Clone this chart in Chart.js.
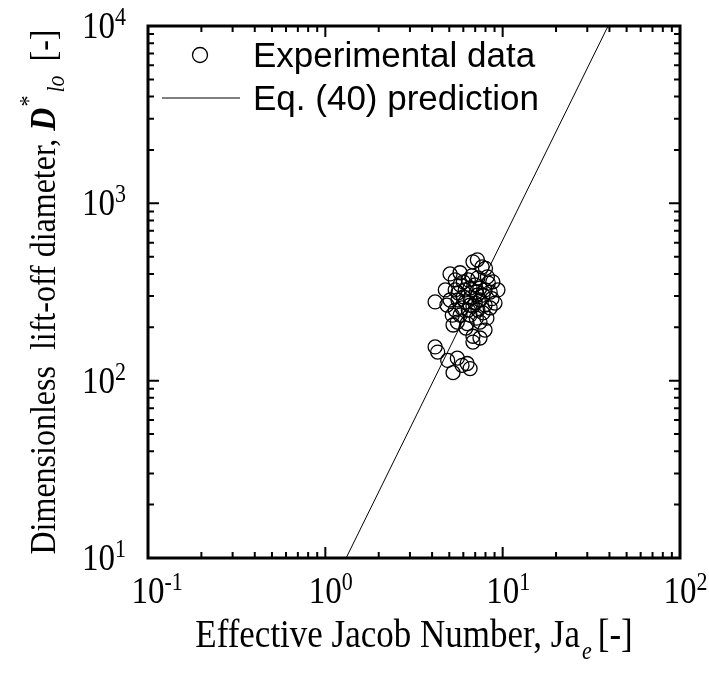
<!DOCTYPE html>
<html>
<head>
<meta charset="utf-8">
<script src="https://cdn.jsdelivr.net/npm/chart.js@4.4.1/dist/chart.umd.min.js"></script>
<style>
  body { margin: 0; background: #fff; }
  #chart { display: block; }
</style>
</head>
<body>
<canvas id="chart" width="709" height="673"></canvas>
<script>
const jaExp = [
  6.8, 7.65, 7.2, 5.05, 5.75, 6.7, 8.2, 8.8, 8.0, 4.16,
  5.4, 5.05, 6.0, 7.2, 8.5, 9.05, 8.5, 5.55, 5.25, 6.3,
  7.45, 6.8, 7.45, 6.8, 4.16, 4.3, 4.9, 5.55, 5.25, 5.9,
  6.3, 6.55, 5.75, 6.15, 6.55, 7.0, 7.45, 7.95, 5.6, 6.15,
  6.55, 7.0, 7.45, 7.95, 5.9, 6.4, 6.8, 7.25, 7.75, 5.4,
  5.75, 6.55, 7.1, 8.15, 8.7, 9.4, 8.3, 7.25, 6.4, 5.4,
  4.75, 4.85, 5.2, 6.2, 7.95, 6.0, 7.75, 6.55, 7.1, 5.6
];
const dloExp = [
  468, 438, 480, 400, 406, 390, 385, 361, 430, 278,
  325, 285, 297, 304, 316, 274, 257, 214, 206, 210,
  214, 178, 174, 165, 155, 145, 130, 134, 111, 122,
  125, 117, 347, 325, 333, 347, 333, 325, 285, 278,
  293, 274, 285, 267, 257, 250, 263, 250, 241, 250,
  234, 234, 225, 225, 290, 325, 355, 380, 370, 370,
  325, 267, 234, 198, 193, 361, 304, 267, 316, 313
];
// Eq. (40) prediction, end points where it meets the frame
const jaPred = [1.31, 39.3];
const dloPred = [10, 10000];

const xTicks = [-1, 0, 1, 2];
const yTicks = [1, 2, 3, 4];

const serif = '"Liberation Serif", "Times New Roman", serif';
const sans = '"Liberation Sans", Arial, sans-serif';
const SY = 1.15; // serif text in the figure is a bit taller than normal

const drawParts = (ctx, parts, x, y, align, sy = 1) => {
  let w = 0;
  parts.forEach((p) => {
    ctx.font = p.f;
    p.w = ctx.measureText(p.t).width;
    w += p.w + (p.gap || 0);
  });
  let cx = align === "center" ? x - w / 2 : align === "right" ? x - w : x;
  parts.forEach((p) => {
    ctx.save();
    ctx.font = p.f;
    ctx.translate(cx, y + (p.dy || 0));
    ctx.scale(1, sy);
    ctx.fillText(p.t, 0, 0);
    ctx.restore();
    cx += p.w + (p.gap || 0);
  });
};

const framePlugin = {
  id: "frame",
  afterDraw(chart) {
    const ctx = chart.ctx;
    const a = chart.chartArea;
    const xs = chart.scales.x;
    const ys = chart.scales.y;
    ctx.save();
    ctx.fillStyle = "#000";
    ctx.strokeStyle = "#000";
    ctx.textBaseline = "alphabetic";

    // inward ticks on all four sides
    ctx.lineWidth = 2;
    ctx.beginPath();
    for (let k = -1; k <= 2; k++) {
      for (let m = 1; m <= 9; m++) {
        const v = m * Math.pow(10, k);
        if (v < 0.1 || v > 100) continue;
        const len = m === 1 ? 11 : 6;
        const px = xs.getPixelForValue(v);
        ctx.moveTo(px, a.bottom);
        ctx.lineTo(px, a.bottom - len);
        ctx.moveTo(px, a.top);
        ctx.lineTo(px, a.top + len);
      }
    }
    for (let k = 1; k <= 4; k++) {
      for (let m = 1; m <= 9; m++) {
        const v = m * Math.pow(10, k);
        if (v > 10000) continue;
        const len = m === 1 ? 11 : 6;
        const py = ys.getPixelForValue(v);
        ctx.moveTo(a.left, py);
        ctx.lineTo(a.left + len, py);
        ctx.moveTo(a.right, py);
        ctx.lineTo(a.right - len, py);
      }
    }
    ctx.stroke();

    ctx.lineWidth = 3;
    ctx.strokeRect(a.left, a.top, a.right - a.left, a.bottom - a.top);

    // tick labels
    const big = "33px " + serif;
    const small = "22px " + serif;
    xTicks.forEach((e) => {
      const px = xs.getPixelForValue(Math.pow(10, e));
      ctx.font = big;
      const w10 = ctx.measureText("10").width;
      drawParts(ctx, [{ t: "10", f: big }, { t: String(e), f: small, dy: -13 }], px - w10 / 2, 603, "left", SY);
    });
    yTicks.forEach((e) => {
      const py = ys.getPixelForValue(Math.pow(10, e));
      drawParts(ctx, [{ t: "10", f: big }, { t: String(e), f: small, dy: -13 }], 126, py + 12, "right", SY);
    });

    // axis titles
    const tx = "35px " + serif;
    drawParts(ctx, [
      { t: "Effective Jacob Number, Ja", f: tx, gap: 2 },
      { t: "e", f: "italic 22px " + serif, dy: 12, gap: 6 },
      { t: "[-]", f: tx }
    ], (a.left + a.right) / 2, 647, "center", SY);

    const ty = "32px " + serif;
    ctx.translate(55, (a.top + a.bottom) / 2);
    ctx.rotate(-Math.PI / 2);
    drawParts(ctx, [
      { t: "Dimensionless  lift-off diameter, ", f: ty },
      { t: "D", f: "bold italic 32px " + serif, gap: 1 },
      { t: "*", f: "22px " + serif, dy: -18, gap: 3 },
      { t: "lo", f: "italic 22px " + serif, dy: 9, gap: 14 },
      { t: "[-]", f: ty }
    ], 0, 0, "center", SY);
    ctx.setTransform(1, 0, 0, 1, 0, 0);

    // legend
    ctx.font = "35px " + sans;
    ctx.lineWidth = 1.3;
    ctx.beginPath();
    ctx.arc(200, 55, 7.5, 0, Math.PI * 2);
    ctx.stroke();
    ctx.fillText("Experimental data", 253, 67);
    ctx.lineWidth = 1;
    ctx.beginPath();
    ctx.moveTo(162, 98);
    ctx.lineTo(240, 98);
    ctx.stroke();
    ctx.fillText("Eq. (40) prediction", 253, 110);
    ctx.restore();
  },
};

new Chart(document.getElementById("chart"), {
  type: "scatter",
  data: {
    datasets: [
      {
        label: "Experimental data",
        data: jaExp.map((x, i) => ({ x: x, y: dloExp[i] })),
        pointStyle: "circle",
        pointRadius: 7,
        borderColor: "#000",
        backgroundColor: "rgba(0,0,0,0)",
        borderWidth: 1.3,
      },
      {
        label: "Eq. (40) prediction",
        data: jaPred.map((x, i) => ({ x: x, y: dloPred[i] })),
        showLine: true,
        pointRadius: 0,
        borderColor: "#000",
        borderWidth: 1,
      },
    ],
  },
  options: {
    responsive: false,
    animation: false,
    devicePixelRatio: 1,
    layout: { padding: { left: 148, right: 29, top: 26, bottom: 115 } },
    plugins: { legend: { display: false }, tooltip: { enabled: false } },
    scales: {
      x: { type: "logarithmic", min: 0.1, max: 100, display: false },
      y: { type: "logarithmic", min: 10, max: 10000, display: false },
    },
  },
  plugins: [framePlugin],
});
</script>
</body>
</html>
